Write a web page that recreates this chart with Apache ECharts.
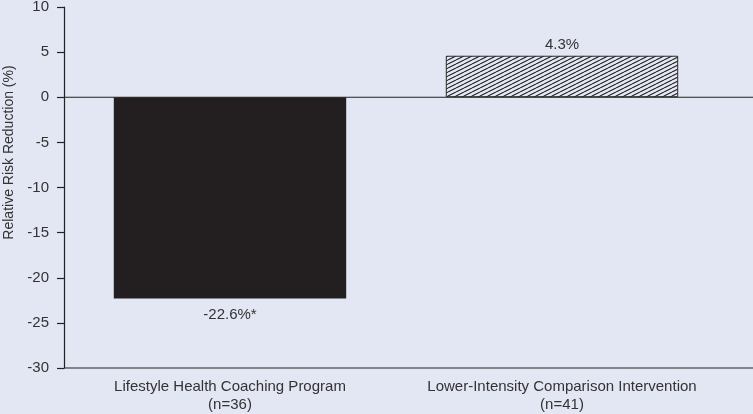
<!DOCTYPE html>
<html>
<head>
<meta charset="utf-8">
<script src="https://cdn.jsdelivr.net/npm/echarts@6/dist/echarts.min.js"></script>
<style>
html,body{margin:0;padding:0;background:#e3e6f3;}
#c{width:753px;height:414px;}
</style>
</head>
<body>
<div id="c"></div>
<script>
const categories = ['Lifestyle Health Coaching Program\n(n=36)', 'Lower-Intensity Comparison Intervention\n(n=41)'];
const values = [-22.3, 4.6];
const valueLabels = ['-22.6%*', '4.3%'];
const yTicks = [10, 5, 0, -5, -10, -15, -20, -25, -30];

const hatch = document.createElement('canvas');
hatch.width = 8; hatch.height = 4;
const hc = hatch.getContext('2d');
hc.fillStyle = '#e3e6f3';
hc.fillRect(0, 0, 8, 4);
hc.strokeStyle = '#2a2a2a';
hc.lineWidth = 0.9;
hc.beginPath();
hc.moveTo(-8, 8); hc.lineTo(8, 0);
hc.moveTo(0, 8); hc.lineTo(16, 0);
hc.moveTo(-8, 4); hc.lineTo(8, -4);
hc.moveTo(0, 4); hc.lineTo(16, -4);
hc.stroke();

const FONT = 'Liberation Sans, Arial, sans-serif';
const chart = echarts.init(document.getElementById('c'));
const fills = ['#231f20', {image: hatch, repeat: 'repeat'}];
const option = {
  backgroundColor: '#e3e6f3',
  animation: false,
  grid: {left: 64, right: 25, top: 7, bottom: 46, containLabel: false, outerBoundsMode: 'none'},
  xAxis: {
    type: 'category',
    data: categories,
    position: 'bottom',
    axisLine: {show: false, onZero: false},
    axisTick: {show: false},
    axisLabel: {interval: 0, color: '#333', fontSize: 15, lineHeight: 18, margin: 10, fontFamily: FONT}
  },
  yAxis: {
    type: 'value',
    min: -30, max: 10, interval: 5,
    name: 'Relative Risk Reduction (%)',
    nameLocation: 'middle',
    nameGap: 47,
    nameTextStyle: {color: '#333', fontSize: 14, fontFamily: FONT, padding: [0, 0, 0, 70]},
    axisLine: {show: true, lineStyle: {color: '#222', width: 1.2}},
    axisTick: {show: true, length: 7, lineStyle: {color: '#222', width: 1.2}},
    splitLine: {show: false},
    axisLabel: {color: '#333', fontSize: 15, margin: 15, fontFamily: FONT,
      formatter: v => yTicks.includes(v) ? String(v) : ''}
  },
  series: [{
    type: 'bar',
    barWidth: '70%',
    data: values.map((v, i) => ({
      value: v,
      itemStyle: {color: fills[i], borderColor: '#2a2a2a', borderWidth: i === 1 ? 1 : 0},
      label: {show: true, position: v < 0 ? 'bottom' : 'top', distance: v < 0 ? 9 : 3,
        formatter: valueLabels[i], color: '#333', fontSize: 15, fontFamily: FONT}
    }))
  }]
};
chart.setOption(option);

const y0 = chart.convertToPixel({yAxisIndex: 0}, 0);
const yMin = chart.convertToPixel({yAxisIndex: 0}, -30);
chart.setOption({
  graphic: [
    {type: 'line', z: 100, shape: {x1: 64, y1: y0, x2: 753, y2: y0}, style: {stroke: '#222', lineWidth: 1.2}},
    {type: 'line', z: 100, shape: {x1: 64, y1: yMin, x2: 753, y2: yMin}, style: {stroke: '#222', lineWidth: 1.2}}
  ]
});
</script>
</body>
</html>
